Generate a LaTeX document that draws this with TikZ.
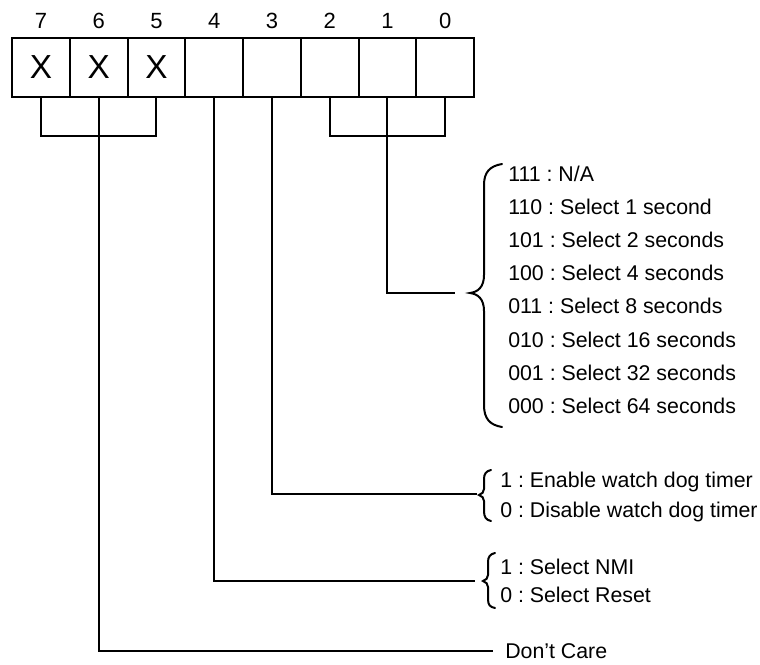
\documentclass[tikz,border=0pt]{standalone}
\usepackage{fontspec}
\setmainfont{Liberation Sans}
\frenchspacing
\tikzset{
  cell/.style={draw, line width=1.5pt, minimum width=43.31pt, minimum height=44.25pt, inner sep=0pt, font=\fontsize{25}{29}\selectfont},
  bitnum/.style={anchor=base, inner sep=0pt, font=\fontsize{16.5}{19}\selectfont},
  lbl/.style={anchor=base west, inner sep=0pt, font=\fontsize{16}{19}\selectfont},
  wire/.style={line width=1.5pt},
  curly/.style={line width=1.5pt, line cap=round},
}
\begin{document}
\begin{tikzpicture}[x=0.75pt, y=-0.75pt]
\useasboundingbox (0,0) rectangle (760,664);
% register cells
\foreach \b/\t in {7/X,6/X,5/X,4/{},3/{},2/{},1/{},0/{}} {
  \pgfmathsetmacro\cx{12+57.75*(7-\b)+28.875}
  \node[cell] (c\b) at (\cx,67.5) {\t};
  \node[bitnum] (n\b) at (\cx,28) {\b};
}
% free ends of connectors
\coordinate (selend) at (455,293);
\coordinate (wdend) at (477,494);
\coordinate (nmiend) at (475,581);
\coordinate (dcend) at (493,651);
% grouping brackets
\draw[wire] (c7.south) -- ++(0,38) -| (c5.south);
\draw[wire] (c2.south) -- ++(0,38) -| (c0.south);
% connectors
\draw[wire] (c1.south) |- (selend);
\draw[wire] (c3.south) |- (wdend);
\draw[wire] (c4.south) |- (nmiend);
\draw[wire] (c6.south) |- (dcend);
% big brace
\draw[curly] (502,164) .. controls (490,166) and (484,172) .. (484,185) -- (484,275)
  .. controls (484,287) and (478,292) .. (470,293)
  .. controls (478,294) and (484,299) .. (484,311) -- (484,405)
  .. controls (484,419) and (490,425) .. (502,427);
% watchdog brace
\draw[curly] (491,470) .. controls (486,471) and (484,474) .. (484,479) -- (484,489)
  .. controls (484,492) and (482,494) .. (479,495)
  .. controls (482,496) and (484,498) .. (484,501) -- (484,511)
  .. controls (484,517) and (486,520) .. (491,521);
% NMI brace
\draw[curly] (495,553) .. controls (490,554) and (488,557) .. (488,562) -- (488,575)
  .. controls (488,578) and (486,580) .. (483,581)
  .. controls (486,582) and (488,584) .. (488,587) -- (488,599)
  .. controls (488,605) and (490,607) .. (495,608);
% labels
\node[lbl] (s7) at (508,181) {111 : N/A};
\node[lbl] (s6) at (508,214) {110 : Select 1 second};
\node[lbl] (s5) at (508,247) {101 : Select 2 seconds};
\node[lbl] (s4) at (508,280) {100 : Select 4 seconds};
\node[lbl] (s3) at (508,313) {011 : Select 8 seconds};
\node[lbl] (s2) at (508,347) {010 : Select 16 seconds};
\node[lbl] (s1) at (508,380) {001 : Select 32 seconds};
\node[lbl] (s0) at (508,413) {000 : Select 64 seconds};
\node[lbl] (w1) at (500,487) {1 : Enable watch dog timer};
\node[lbl] (w0) at (500,517) {0 : Disable watch dog timer};
\node[lbl] (m1) at (500,574) {1 : Select NMI};
\node[lbl] (m0) at (500,602) {0 : Select Reset};
\node[lbl] (dc) at (505,658) {Don’t Care};
\end{tikzpicture}
\end{document}
